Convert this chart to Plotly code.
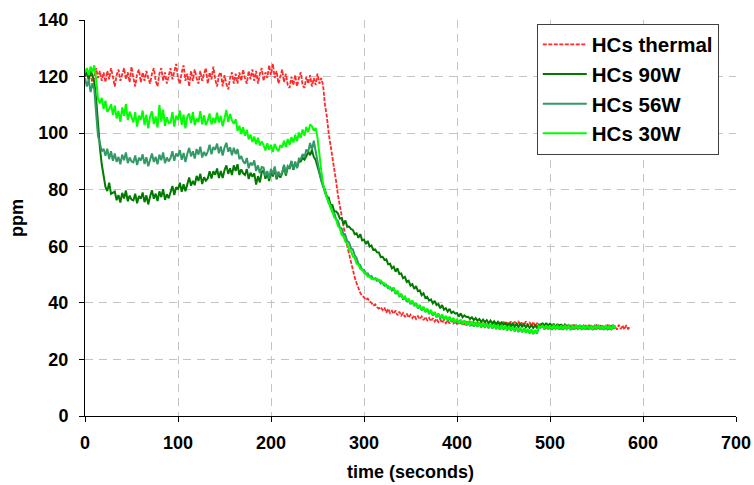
import plotly.graph_objects as go

STEP = 2

hcs_thermal = [
    121, 122.5, 119, 121.5, 117, 120.5, 123, 119.5, 122, 118.5, 121.5,
    118, 122, 119, 123, 120, 116.5, 120.5, 122.5, 118.5, 121,
    123, 119, 121.5, 118, 123.5, 119.5, 116.5, 121, 122.5, 118,
    121.5, 118.5, 122, 119.5, 117.5, 121, 123, 118.5, 116.5, 121,
    123, 118.5, 121.5, 117.5, 120.5, 123, 119, 122, 124.5, 119.5,
    117.5, 121.5, 124, 118.5, 121, 116.5, 122, 118.5, 122.5, 119.5,
    117.5, 122, 118.5, 121, 123, 117.5, 121.5, 119, 123.5, 119,
    116.5, 120.5, 121.5, 116.5, 120.5, 117.5, 115.5, 119.5, 121.5, 117.5,
    121, 117.5, 121.5, 118.5, 122.5, 119.5, 117.5, 122, 119, 122.5,
    118.5, 122, 117.5, 121, 123, 118.5, 121.5, 119.5, 124, 120.5,
    124.5, 119.5, 122, 117.5, 120.5, 122.5, 118, 121, 117, 116,
    120, 117, 120.5, 116.5, 119.5, 121.5, 117, 116, 120, 117.5,
    120.5, 116.5, 119.5, 117, 121, 117.5, 119.5,
    117, 110, 106, 100, 96, 92, 88, 83, 78, 74, 71, 67, 63.5, 60, 57, 54,
    52, 49, 47, 45, 43.5, 42.5, 42, 41, 41.5, 40.5, 40, 39, 39.5, 38.5, 38,
    38.5, 37.5,
    38.3, 36.5, 37.9, 36.4, 37.2, 36.1, 37.3, 35.6, 36.9, 35.5,
    36.4, 35, 36.2, 34.8, 35.8, 34.6, 35.6, 34.3, 35.3, 34.2,
    35.2, 33.9, 35, 33.8, 34.7, 33.5, 34.6, 33.4, 34.4, 33.2,
    34.2, 32.9, 34, 32.8, 33.8, 32.7, 33.9, 32.5, 33.6, 32.4,
    33.7, 32.3, 33.5, 32.2, 33.4, 32.1, 33.6, 32, 33.3, 32,
    33.4, 31.9, 33.2, 31.8, 33.3, 31.9, 33.1, 31.7, 33.3, 31.8,
    33, 31.7, 33.2, 31.8, 33.4, 31.9, 33.3, 31.7, 33.5, 31.9,
    33.4, 32, 33.6, 31.9, 33.3, 31.8, 33.5, 32, 33.2, 31.7,
    33.3, 31.6, 32.9, 31.4, 32.7, 31.2, 32.6, 30.9, 32.4, 30.8,
    32.3, 30.8, 32.2, 30.7, 32.4, 30.6, 32.1, 30.8, 32.2, 30.7,
    32.1, 30.6, 32.3, 30.8, 32, 30.5, 32.2, 30.7, 32.1, 30.6,
    32.2, 30.7, 32, 30.6, 32.3, 30.8, 32.1, 30.5, 32, 30.7,
    32.3, 30.6, 32.1, 30.8, 31.9, 30.5, 32.2, 30.7, 32, 30.6,
    32.1, 30.8, 31.6,
]

hcs_90w = [
    120, 121.5, 119, 122, 120.5, 118,
    112, 103, 95, 89, 84, 81, 79.5, 82.5, 78.5, 79,
    79.3, 76.3, 78.1, 75.5, 78.9, 76.9, 79.7, 75.9, 77.9, 76.5,
    76.2, 78.6, 75.2, 77.8, 76.8, 79, 75.6, 78, 74.8, 77.6,
    79.8, 76.8, 78.6, 76, 79.4, 77.4, 80.2, 76.4, 78.4, 77,
    78.9, 81.3, 78.1, 80.9, 80.1, 82.5, 79.3, 81.9, 79.5, 82.3,
    84.3, 81.4, 83.1, 81.6, 84.9, 83.1, 85.6, 82, 84.4, 83.2,
    84, 86.5, 84, 86.5, 85.3, 87.5, 84.1, 86.6, 84.1, 86.9,
    88.6, 85.6, 87.6, 85.2, 88.6, 86.6, 89, 85.2, 87.2, 85.8,
    85.2, 87.3, 83.8, 86, 84.6, 85.8, 81.8, 84.8, 82.6, 86.1,
    86.9, 83.9, 85.7, 83.1, 86.5, 84.7, 87.5, 83.7, 85.7, 84.3,
    85.8, 88.4, 85, 88, 87.6, 90, 87, 89.5, 87.8, 90.1,
    90, 91.2, 90.6, 91.8, 93.4, 92.2, 94, 91.6, 90.5, 88.2,
    86, 84, 81.2, 80, 77.4, 77.2, 74.8, 74.6, 72.4, 72.3,
    71.6, 69.8, 69.9, 67.8, 69.1, 66.9, 67, 66.1, 65.8, 64.3,
    64.6, 63, 64.3, 62.1, 62.4, 60.8, 61.9, 59.9, 60.3, 58.7,
    58.9, 57.9, 57.8, 56.2, 56.3, 55.2, 55.4, 53.6, 53.8, 52.2,
    52.8, 51, 52.2, 50.2, 50.4, 48.7, 49.2, 47.4, 47.8, 46.1,
    46.6, 44.9, 45.9, 44.1, 44.4, 42.7, 43.4, 41.7, 42.1, 40.8,
    41.2, 39.8, 40.7, 39.2, 39.6, 38.1, 39.2, 37.6, 38.1, 36.9,
    37.9, 36.4, 36.9, 36.2, 36.4, 35.2, 36.3, 34.9, 35.6, 35,
    35.1, 34.3, 34.9, 33.9, 34.6, 33.7, 34.3, 33.3, 34.1, 33.2,
    33.9, 32.8, 33.7, 32.6, 33.5, 32.4, 33.3, 32.2, 33.1, 32.3,
    32.9, 31.9, 32.8, 31.7, 32.7, 31.6, 32.6, 31.5, 32.5, 31.6,
    32.4, 31.3, 32.3, 31.2, 32.1, 31.1, 32, 31.2, 32.3, 31.6,
    32.9, 31.8, 32.9, 31.7, 32.8, 31.5, 32.6, 31.4, 32.5, 31.3,
    32.4, 31.2, 32.3, 31.3, 32.1, 31, 32.2, 31.1, 32, 30.9,
    32.1, 31, 31.9, 30.8, 32, 30.9, 31.8, 30.7, 31.9, 31,
    31.8, 30.7, 32, 30.9, 31.8, 30.6, 31.7, 30.8, 31.9, 31.1,
]

hcs_56w = [
    119.5, 116.5, 119, 114.5, 117.5, 115.5,
    107, 99, 96.5, 93.5, 94.5, 92, 94.5, 90.8, 93.6, 90.2,
    92.8, 89.8, 91.6, 89, 92.4, 90.4, 93.2, 89.4, 91.4, 90,
    89.7, 92.1, 88.7, 91.3, 90.3, 92.5, 89.1, 91.5, 88.3, 91.1,
    92.8, 89.8, 91.6, 89, 92.4, 90.4, 93.2, 89.4, 91.4, 90,
    91.2, 93.6, 90.2, 92.8, 91.8, 94, 90.6, 93, 89.8, 92.6,
    94.8, 91.8, 93.6, 91, 94.4, 92.4, 95.2, 91.4, 93.4, 92,
    93.5, 95.9, 92.5, 95.1, 94.1, 96.3, 92.9, 95.3, 92.1, 94.9,
    96.6, 93.4, 95, 92.2, 94.8, 92.6, 94.4, 90.8, 91.9, 90.1,
    89.2, 91.2, 87.6, 89.6, 88.6, 90.4, 86.6, 88.6, 85.8, 88,
    87.8, 84.8, 86.6, 84, 87.4, 85.4, 88.2, 84.4, 86.4, 85,
    86, 88.8, 85.6, 88.4, 87.8, 90.2, 87.2, 90, 87.6, 91,
    90.8, 92.6, 91.4, 94.2, 93.3, 96.5, 94.1, 97.3, 93.2, 89.5,
    86.5, 83.2, 81.6, 78.8, 77.9, 75.2, 74.6, 72.1, 71.8, 69.6,
    68.9, 66.7, 66.3, 64.1, 63.9, 61.8, 61.4, 59.3, 58.9, 56.8,
    55.9, 53.8, 53.3, 51.6, 51.7, 50.2, 50.4, 49.2, 49.5, 48.4,
    48.7, 47.8, 48.1, 46.9, 47.2, 46.1, 46.4, 45.2, 45.5, 44.4,
    44.9, 43.2, 44.1, 42.1, 43, 41.1, 42.1, 40.3, 41.3, 39.5,
    40.5, 38.8, 39.8, 38, 39, 37.3, 38.4, 36.7, 37.8, 36.1,
    37.2, 35.5, 36.6, 34.9, 36, 34.4, 35.6, 34, 35.2, 33.7,
    34.9, 33.3, 34.5, 32.9, 34.1, 32.6, 33.9, 32.3, 33.6, 32,
    33.3, 31.8, 33.2, 31.6, 33, 31.5, 32.8, 31.3, 32.7, 31.2,
    32.5, 31, 32.4, 30.9, 32.2, 30.7, 32, 30.6, 31.9, 30.5,
    31.7, 30.3, 31.6, 30.1, 31.4, 29.9, 31.2, 29.7, 31, 29.6,
    30.8, 29.4, 30.6, 29.2, 30.4, 29, 30.2, 29.1, 31.6, 31.2,
    31.8, 30.6, 31.9, 30.7, 31.8, 30.5, 32, 30.8, 31.7, 30.6,
    31.8, 30.5, 31.9, 30.7, 31.7, 30.4, 31.8, 30.6, 31.9, 30.8,
    31.7, 30.5, 31.8, 30.7, 31.9, 30.6, 31.7, 30.4, 31.8, 30.7,
    31.9, 30.6, 31.7, 30.5, 31.8, 30.7, 31.6, 30.5, 31.8, 30.9,
]

hcs_30w = [
    121.5, 123, 120.5, 123.5, 121.5, 124,
    119, 112, 110.5, 112.5, 108.5, 111.5, 107.5, 108.5, 110.2, 106.5,
    109.7, 105.2, 107.9, 104, 109.1, 106.1, 110.3, 104.6, 107.6, 105.5,
    103.8, 107.4, 102.3, 106.2, 104.7, 108, 102.9, 106.5, 101.7, 105.9,
    107.7, 103.2, 105.9, 102, 110, 104.1, 108.3, 102.6, 105.6, 103.5,
    103.8, 107.4, 102.3, 106.2, 104.7, 108, 102.9, 106.5, 101.7, 105.9,
    106.9, 103.6, 107.4, 102.8, 105.2, 103.9, 107.8, 103.1, 106.3, 102.9,
    104.5, 106.9, 103.1, 105.4, 103.6, 107.2, 103.8, 106.1, 102.4, 105.2,
    108.2, 103.9, 106.8, 104.5, 103.3, 104.9, 100.8, 102.6, 99.7, 102.1,
    99.1, 101.2, 97.8, 99.5, 96.9, 98.8, 96.1, 98.4, 95.6, 97.1,
    95.8, 93.9, 96.4, 94.1, 95.9, 93.3, 96.2, 94.5, 93.6, 95.8,
    94.9, 97.3, 95.1, 97.9, 95.8, 98.6, 96.7, 99.4, 97.1, 100.2,
    98.4, 101.3, 99.1, 102.2, 100.3, 103.1, 102.4, 100.9, 101.8, 98.4,
    91.5, 86.8, 82.1, 79.8, 77.1, 75.9, 73.5, 72.3, 70.2, 69.5,
    67.2, 66.4, 64.1, 63.5, 61.6, 60.9, 58.9, 58.3, 56.4, 55.8,
    53.9, 53.5, 52, 51.9, 50.6, 50.5, 49.3, 49.4, 48.5, 48.6,
    48.2, 48.6, 47.7, 47.9, 46.8, 46.9, 45.8, 46, 44.9, 45.1,
    45.3, 43.5, 44.3, 42.4, 43.3, 41.5, 42.3, 40.6, 41.5, 39.8,
    40.9, 39, 40, 38.3, 39.3, 37.5, 38.6, 36.9, 38, 36.3,
    37.5, 35.7, 36.8, 35.1, 36.3, 34.7, 35.9, 34.3, 35.4, 33.9,
    35.1, 33.5, 34.7, 33.2, 34.3, 32.8, 34.1, 32.5, 33.8, 32.2,
    33.5, 32.1, 33.4, 31.9, 33.2, 31.7, 33, 31.6, 32.9, 31.4,
    32.7, 31.3, 32.6, 31.1, 32.4, 31, 32.2, 30.8, 32.1, 30.7,
    31.9, 30.5, 31.8, 30.3, 31.6, 30.1, 31.4, 29.9, 31.2, 29.8,
    31, 29.6, 30.8, 29.4, 30.6, 29.2, 30.4, 29.3, 31.8, 31.4,
    32, 30.8, 32.1, 30.9, 32, 30.7, 32.2, 31, 31.9, 30.8,
    32, 30.7, 32.1, 30.9, 31.9, 30.6, 32, 30.8, 32.1, 31,
    31.9, 30.7, 32, 30.9, 32.1, 30.8, 31.9, 30.6, 32, 30.9,
    32.1, 30.8, 31.9, 30.7, 32, 30.9, 31.8, 30.7, 32, 31.1,
]

series_names = ["HCs thermal", "HCs 90W", "HCs 56W", "HCs 30W"]
series_values = [hcs_thermal, hcs_90w, hcs_56w, hcs_30w]
series_colors = ["#ff2a2a", "#007a00", "#339966", "#00ff00"]
series_dash = ["4px,1.5px", "solid", "solid", "solid"]
series_width = [1.8, 2, 2, 2]

x_ticks = [0, 100, 200, 300, 400, 500, 600, 700]
y_ticks = [0, 20, 40, 60, 80, 100, 120, 140]

FONT = "Liberation Sans, Arial, sans-serif"

fig = go.Figure()
for name, vals, col, dash, w in zip(series_names, series_values, series_colors,
                                    series_dash, series_width):
    t = [STEP * k for k in range(len(vals))]
    fig.add_trace(go.Scatter(
        x=t, y=vals, mode="lines", name=name, legendgroup=name,
        line=dict(color=col, width=w, dash=dash),
    ))

axis_common = dict(
    showgrid=True, gridcolor="#c4c4c4", gridwidth=1, griddash="8px,6px",
    showline=True, linecolor="black", linewidth=1,
    ticks="outside", ticklen=5, tickcolor="black", tickwidth=1,
    zeroline=False, automargin=False,
    tickfont=dict(family=FONT, size=18, color="black", weight="bold"),
)

fig.update_xaxes(range=[0, 700], tickvals=x_ticks, ticklabelstandoff=5,
                 title=dict(text="time (seconds)", standoff=13,
                            font=dict(family=FONT, size=18, color="black", weight="bold")),
                 **axis_common)
fig.update_yaxes(range=[0, 140], tickvals=y_ticks, ticklabelstandoff=7,
                 title=dict(text="ppm", standoff=10,
                            font=dict(family=FONT, size=18, color="black", weight="bold")),
                 **axis_common)

fig.update_layout(
    width=754, height=485,
    margin=dict(l=85, r=18, t=20, b=69),
    plot_bgcolor="white", paper_bgcolor="white",
    font=dict(family=FONT, size=18, color="black"),
    showlegend=True,
    legend=dict(
        x=0.694, y=0.991, xanchor="left", yanchor="top",
        bgcolor="white", bordercolor="#404040", borderwidth=1,
        font=dict(family=FONT, size=20.5, color="black", weight="bold"),
        tracegroupgap=3, traceorder="normal", itemwidth=44,
    ),
)

fig.write_html("out.html", config={"displayModeBar": False},
               post_script="document.body.style.margin='0';")
